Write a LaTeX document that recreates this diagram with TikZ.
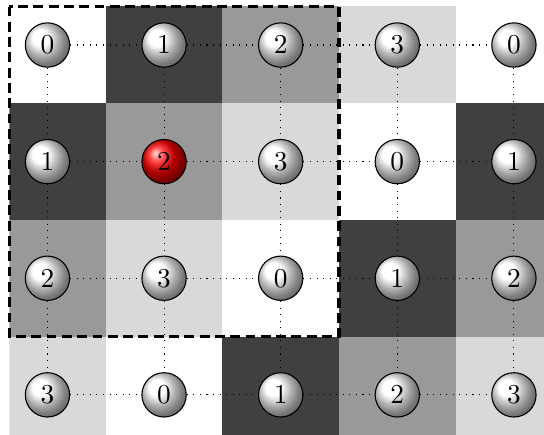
\documentclass[tikz,border=0pt]{standalone}
\usepackage{tikz}

\colorlet{shade0}{white}
\colorlet{shade1}{black!75}
\colorlet{shade2}{black!40}
\colorlet{shade3}{black!15}

\tikzset{
  ball/.style={circle, draw, inner sep=0pt, minimum size=5.7mm},
  link/.style={dotted},
}

\begin{document}
\begin{tikzpicture}[x=1.5cm, y=-1.5cm]
  \useasboundingbox (-0.407,-0.386) rectangle (4.258,3.336);

  % Cells
  \begin{scope}
    \clip (-0.326,-0.33) rectangle (4.258,3.336);
    \foreach \r in {0,...,3} {
      \foreach \c in {0,...,4} {
        \pgfmathtruncatemacro{\v}{mod(\r+\c,4)}
        \fill[fill=shade\v] (\c-0.5,\r-0.5) rectangle (\c+0.5,\r+0.5);
      }
    }
  \end{scope}

  % Window
  \draw[very thick, dash pattern=on 3.6pt off 2pt] (-0.326,-0.33) rectangle (2.5,2.5);

  % Balls
  \foreach \r in {0,...,3} {
    \foreach \c in {0,...,4} {
      \pgfmathtruncatemacro{\v}{mod(\r+\c,4)}
      \ifnum\r\c=11 \def\bc{red}\else\def\bc{white}\fi
      \node[ball, ball color=\bc] (b\r\c) at (\c,\r) {$\v$};
    }
  }

  % Links
  \foreach \r in {0,...,3}
    \foreach \c [count=\n] in {0,...,3}
      \draw[link] (b\r\c) -- (b\r\n);
  \foreach \r [count=\n] in {0,...,2}
    \foreach \c in {0,...,4}
      \draw[link] (b\r\c) -- (b\n\c);
\end{tikzpicture}
\end{document}
